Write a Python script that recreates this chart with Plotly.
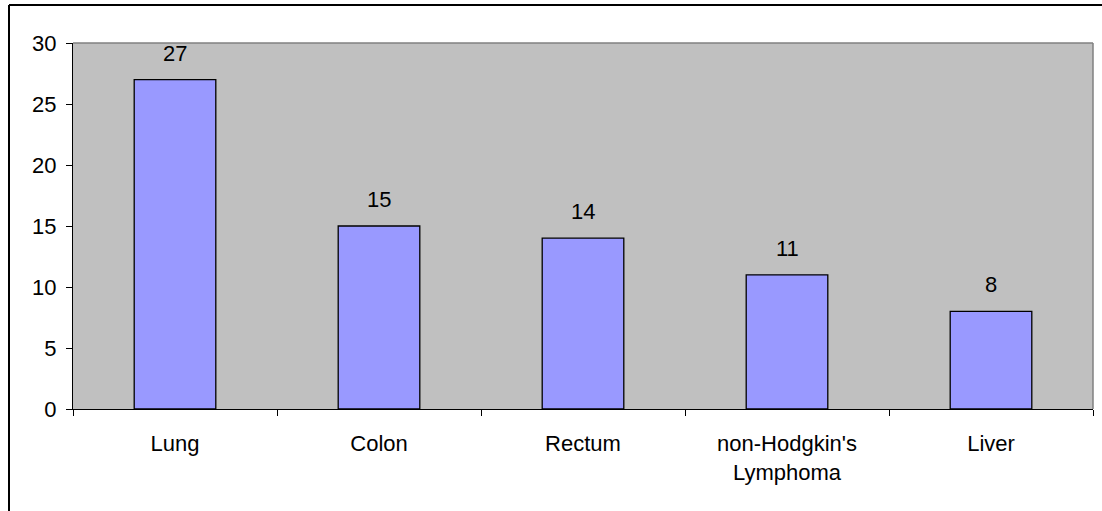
import plotly.graph_objects as go

# Cancer site counts
categories = ["Lung", "Colon", "Rectum", "non-Hodgkin's<br>Lymphoma", "Liver"]
counts = [27, 15, 14, 11, 8]
y_ticks = [0, 5, 10, 15, 20, 25, 30]

W, H = 1102, 511
ML, MR, MT, MB = 73, 9, 43, 102
FONT = "Liberation Sans, Arial, sans-serif"

fig = go.Figure(
    go.Bar(
        x=categories,
        y=counts,
        marker=dict(color="#9999FF", line=dict(color="#000000", width=1.3)),
        width=0.4,
        hoverinfo="x+y",
    )
)

# value labels above each bar
for cat, val in zip(categories, counts):
    fig.add_annotation(
        x=cat, y=val, text=str(val), showarrow=False,
        xref="x", yref="y", yanchor="bottom", yshift=12,
        font=dict(family=FONT, size=22, color="#000000"),
    )

# convert pixel positions to paper coordinates for the frame lines
pw = W - ML - MR
ph = H - MT - MB
def px_x(p):
    return (p - ML) / pw
def px_y(p):
    return 1 - (p - MT) / ph

shapes = [
    # plot-area border (top and right)
    dict(type="line", xref="paper", yref="paper", x0=0, x1=1, y0=1, y1=1,
         line=dict(color="#808080", width=1.5)),
    dict(type="line", xref="paper", yref="paper", x0=1, x1=1, y0=0, y1=1,
         line=dict(color="#808080", width=1.5)),
    # outer chart frame
    dict(type="line", xref="paper", yref="paper", x0=px_x(9), x1=px_x(W + 5),
         y0=px_y(5), y1=px_y(5), line=dict(color="#000000", width=2)),
    dict(type="line", xref="paper", yref="paper", x0=px_x(9), x1=px_x(9),
         y0=px_y(5), y1=px_y(H + 5), line=dict(color="#000000", width=2)),
]

fig.update_layout(
    width=W, height=H,
    margin=dict(l=ML, r=MR, t=MT, b=MB, pad=0),
    paper_bgcolor="#FFFFFF",
    plot_bgcolor="#C0C0C0",
    showlegend=False,
    bargap=0.6,
    font=dict(family=FONT, size=22, color="#000000"),
    shapes=shapes,
)

fig.update_xaxes(
    type="category",
    showgrid=False,
    showline=True, linecolor="#000000", linewidth=1,
    ticks="outside", ticklen=6, tickwidth=1, tickcolor="#000000",
    tickson="boundaries",
    ticklabelstandoff=15,
    tickfont=dict(family=FONT, size=22, color="#000000"),
    zeroline=False,
)

fig.update_yaxes(
    range=[0, 30],
    tickvals=y_ticks,
    showgrid=False,
    showline=True, linecolor="#000000", linewidth=1,
    ticks="outside", ticklen=6, tickwidth=1, tickcolor="#000000",
    ticklabelstandoff=5,
    tickfont=dict(family=FONT, size=22, color="#000000"),
    zeroline=False,
)

fig.write_html("out.html")
